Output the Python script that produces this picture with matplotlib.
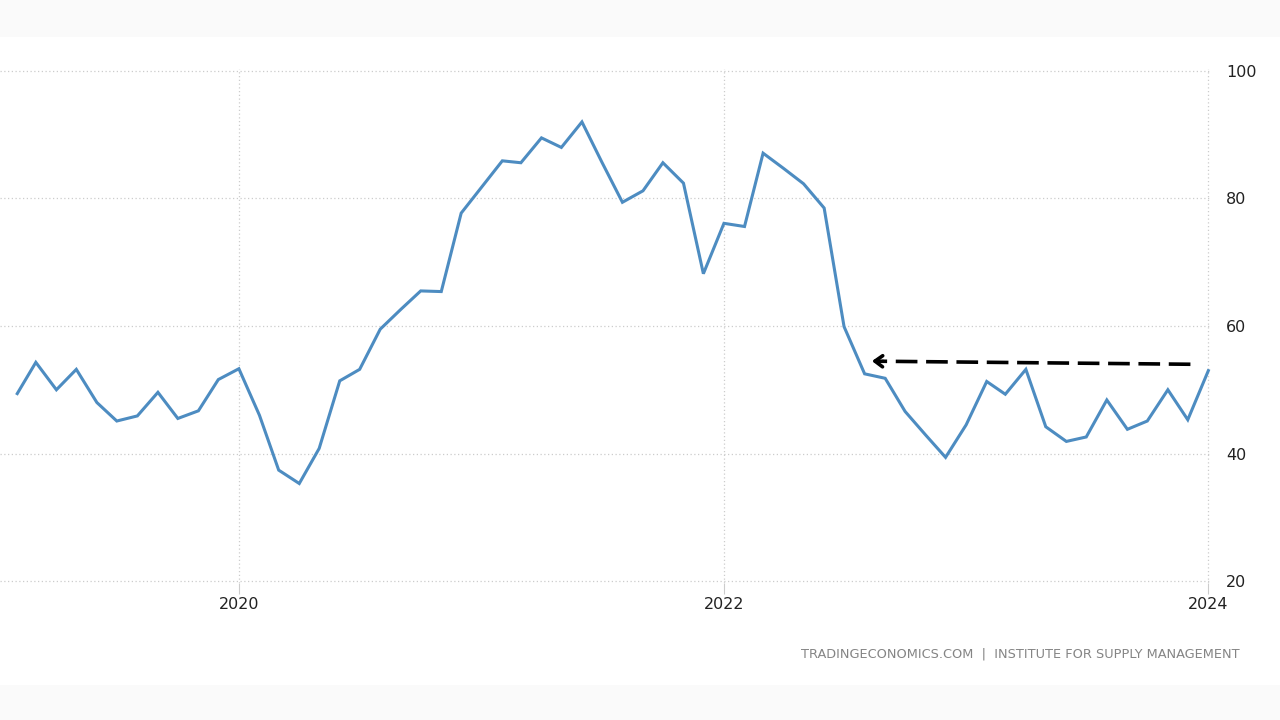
import matplotlib
matplotlib.use("Agg")
import matplotlib.pyplot as plt
from matplotlib.patches import Rectangle
import pandas as pd

# monthly index, Feb 2019 .. Jan 2024
months = pd.date_range("2019-02-01", "2024-01-01", freq="MS")
values = [49.4, 54.3, 50.0, 53.2, 48.0, 45.1, 45.9, 49.6, 45.5, 46.7, 51.6,
          53.3, 46.0, 37.4, 35.3, 40.8, 51.4, 53.2, 59.5, 62.6, 65.5, 65.4, 77.7,
          81.8, 85.9, 85.6, 89.5, 88.0, 92.0, 85.7, 79.4, 81.2, 85.6, 82.4, 68.2,
          76.1, 75.6, 87.1, 84.7, 82.3, 78.5, 59.9, 52.5, 51.8, 46.6, 42.9, 39.4,
          44.5, 51.3, 49.3, 53.2, 44.2, 41.9, 42.6, 48.4, 43.8, 45.1, 50.0, 45.3,
          53.0]
year_ticks = ["2020", "2022", "2024"]
y_ticks = [20, 40, 60, 80, 100]
source = "TRADINGECONOMICS.COM  |  INSTITUTE FOR SUPPLY MANAGEMENT"

# arrow drawn on the chart (start -> tip)
arrow_start = (pd.Timestamp("2023-12-05"), 54.0)
arrow_tip = (pd.Timestamp("2022-08-12"), 54.5)

LINE_COLOR = "#4d8cc1"
GRID_COLOR = "#cccccc"
TEXT_COLOR = "#222222"

fig = plt.figure(figsize=(12.8, 7.2), dpi=100)
fig.patch.set_facecolor("white")
# light bands top and bottom
fig.patches.append(Rectangle((0, 1 - 37 / 720), 1, 37 / 720, transform=fig.transFigure,
                             facecolor="#fafafa", edgecolor="none", zorder=0))
fig.patches.append(Rectangle((0, 0), 1, 35 / 720, transform=fig.transFigure,
                             facecolor="#fafafa", edgecolor="none", zorder=0))

ax = fig.add_axes([0, (720 - 583) / 720, 1211 / 1280, 514 / 720])
ax.set_facecolor("none")

ax.plot(months, values, color=LINE_COLOR, lw=2.2, solid_joinstyle="miter", zorder=3)

ax.set_ylim(19.7, 100.3)
ax.set_xlim(pd.Timestamp("2019-01-06"), pd.Timestamp("2024-01-05"))
ax.set_yticks(y_ticks)
ax.set_xticks([pd.Timestamp(y + "-01-01") for y in year_ticks])
ax.set_xticklabels(year_ticks)

ax.yaxis.tick_right()
ax.grid(True, color=GRID_COLOR, linestyle=(0, (1, 2)), lw=0.9)
for s in ax.spines.values():
    s.set_visible(False)
ax.tick_params(axis="y", length=0, pad=11, labelsize=11.5, labelcolor=TEXT_COLOR)
ax.tick_params(axis="x", length=8, width=0.8, color=GRID_COLOR, pad=2,
               labelsize=11.5, labelcolor=TEXT_COLOR)

# dashed shaft, then a solid open chevron at the tip
shaft_from = pd.Timestamp("2022-08-28")
ax.plot([arrow_start[0], shaft_from], [arrow_start[1], 54.47], color="black",
        lw=2.6, linestyle=(0, (6, 2.4)), solid_capstyle="butt", zorder=4)
ax.annotate("", xy=arrow_tip, xytext=(shaft_from, 54.47),
            arrowprops=dict(arrowstyle="->,head_length=0.55,head_width=0.4",
                            color="black", lw=2.6, shrinkA=0, shrinkB=0),
            zorder=4)

fig.text(1240 / 1280, 1 - 654 / 720, source, ha="right", va="center",
         fontsize=9.3, color="#858585")

fig.savefig("out.png", dpi=100)
